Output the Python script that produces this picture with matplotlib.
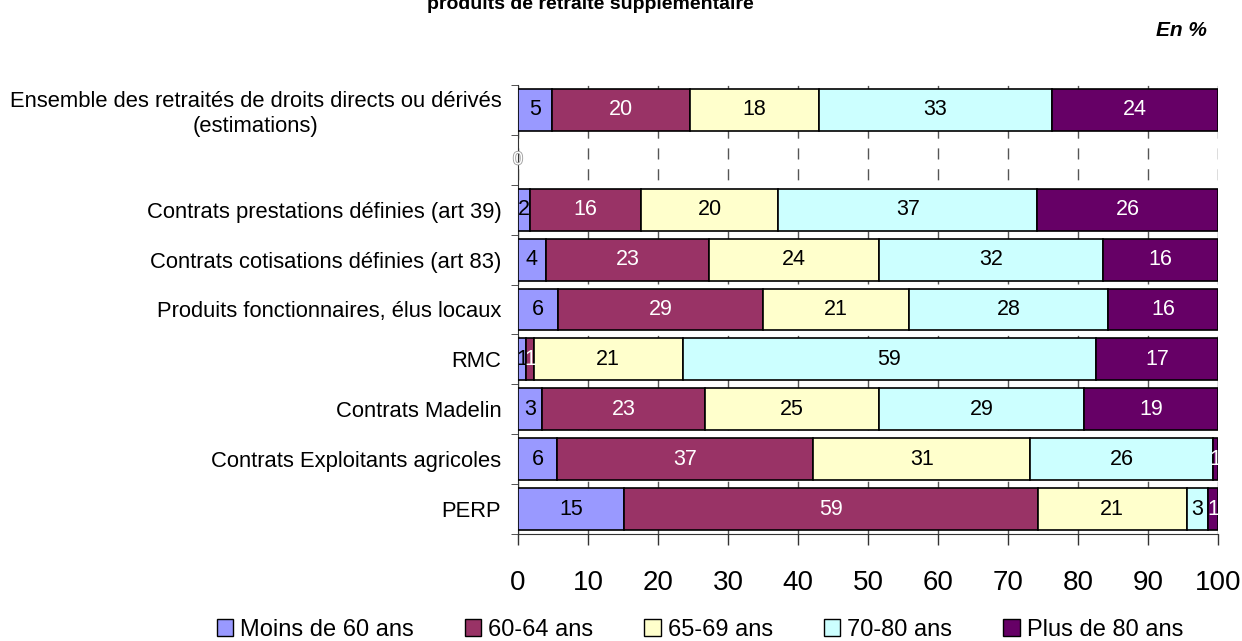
import numpy as np
import matplotlib
matplotlib.use("Agg")
import matplotlib.pyplot as plt
import matplotlib.patheffects as pe
from matplotlib.patches import Rectangle

plt.rcParams["font.family"] = ["Liberation Sans", "DejaVu Sans"]

categories = [
    "Ensemble des retraités de droits directs ou dérivés\n(estimations)",
    "",
    "Contrats prestations définies (art 39)",
    "Contrats cotisations définies (art 83)",
    "Produits fonctionnaires, élus locaux",
    "RMC",
    "Contrats Madelin",
    "Contrats Exploitants agricoles",
    "PERP",
]
series_names = ["Moins de 60 ans", "60-64 ans", "65-69 ans", "70-80 ans", "Plus de 80 ans"]
# parts in %, one list per age group, in category order (row 2 is an empty spacer)
moins_60 = [4.8, 0, 1.7, 4.0, 5.7, 1.15, 3.4, 5.6, 15.2]
ans_60_64 = [19.8, 0, 15.8, 23.3, 29.3, 1.15, 23.3, 36.6, 59.1]
ans_65_69 = [18.4, 0, 19.7, 24.3, 20.9, 21.2, 24.9, 31.0, 21.2]
ans_70_80 = [33.3, 0, 37.0, 32.0, 28.4, 59.1, 29.2, 26.1, 3.1]
plus_80 = [23.7, 0, 25.8, 16.4, 15.7, 17.4, 19.2, 0.7, 1.4]
xticks = [0, 10, 20, 30, 40, 50, 60, 70, 80, 90, 100]

colors = ["#9999FF", "#993366", "#FFFFCC", "#CCFFFF", "#660066"]
text_colors = ["black", "white", "black", "black", "white"]

series = [moins_60, ans_60_64, ans_65_69, ans_70_80, plus_80]

fig = plt.figure(figsize=(12.42, 6.41), dpi=100)
ax = fig.add_axes([518 / 1242, 1 - 534 / 641, 700 / 1242, 449 / 641])

y = np.arange(len(categories))
left = np.zeros(len(categories))
for vals, col, tcol in zip(series, colors, text_colors):
    vals = np.array(vals)
    mask = vals > 0
    bars = ax.barh(y[mask], vals[mask], left=left[mask], height=0.84,
                   color=col, edgecolor="black", linewidth=1.2, zorder=3)
    for b, v in zip(bars, vals[mask]):
        cx = b.get_x() + b.get_width() / 2
        ax.text(cx, b.get_y() + b.get_height() / 2, f"{v:.0f}",
                ha="center", va="center", color=tcol, fontsize=15.5, zorder=4)
    left = left + vals

ax.set_xlim(0, 100)
ax.set_ylim(len(categories) - 0.5, -0.5)
ax.set_xticks(xticks)
ax.set_xticklabels([str(t) for t in xticks], fontsize=20)
ax.tick_params(axis="x", direction="out", length=8, width=1, pad=18, color="#333333")

ax.set_yticks(y)
ax.set_yticklabels(categories, fontsize=15.8, linespacing=1.25, multialignment="center")
ax.tick_params(axis="y", length=0, pad=12)
ax.set_yticks(np.arange(-0.5, len(categories), 1), minor=True)
ax.tick_params(axis="y", which="minor", direction="out", length=5, color="#333333")

ax.grid(axis="x", color="#555555", linestyle=(0, (8, 7)), linewidth=1, zorder=0)
for s in ["top", "right"]:
    ax.spines[s].set_visible(False)
ax.spines["left"].set_color("#333333")
ax.spines["bottom"].set_color("#333333")

# leftover empty-row label from the original sheet
ax.text(0, 1, "0", ha="center", va="center", fontsize=13, color="white",
        path_effects=[pe.withStroke(linewidth=1.2, foreground="#999999")], zorder=5)

fig.text(590 / 1242, 1 - 9 / 641, "produits de retraite supplémentaire",
         ha="center", va="baseline", fontsize=14, fontweight="bold")
fig.text(1207 / 1242, 1 - 30 / 641, "En %", ha="right", va="center",
         fontsize=15, fontweight="bold", fontstyle="italic")

handles = [Rectangle((0, 0), 1, 1, facecolor=c, edgecolor="black", linewidth=1) for c in colors]
fig.legend(handles, series_names, loc="center", bbox_to_anchor=(700 / 1242, 1 - 630 / 641),
           ncol=5, frameon=False, fontsize=17, handlelength=0.7, handleheight=0.7,
           handletextpad=0.3, columnspacing=2.15, borderaxespad=0)

fig.savefig("out.png", dpi=100)
